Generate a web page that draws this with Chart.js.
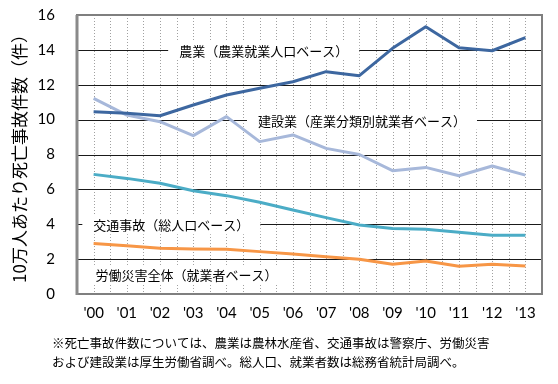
<!DOCTYPE html>
<html><head><meta charset="utf-8">
<script src="https://cdn.jsdelivr.net/npm/chart.js@4/dist/chart.umd.min.js"></script>
<style>html,body{margin:0;padding:0;background:#fff}</style>
</head><body>
<canvas id="c" width="558" height="384" style="width:558px;height:384px;display:block"></canvas>
<script>
const years = ["'00","'01","'02","'03","'04","'05","'06","'07","'08","'09","'10","'11","'12","'13"];
const agriculture = [10.45,10.36,10.22,10.84,11.41,11.80,12.17,12.75,12.52,14.09,15.33,14.12,13.95,14.70];
const construction = [11.22,10.26,9.88,9.08,10.17,8.74,9.12,8.35,8.00,7.07,7.26,6.78,7.34,6.82];
const traffic = [6.86,6.63,6.35,5.92,5.64,5.26,4.82,4.38,3.96,3.76,3.71,3.54,3.37,3.37];
const labor = [2.90,2.77,2.62,2.58,2.56,2.43,2.29,2.14,1.99,1.70,1.89,1.59,1.70,1.61];
const seriesNames = ["農業（農業就業人口ベース）","建設業（産業分類別就業者ベース）","交通事故（総人口ベース）","労働災害全体（就業者ベース）"];
const yTickValues = [0,2,4,6,8,10,12,14,16];
const yTitle = "10万人あたり死亡事故件数（件）";
const footnote = ["※死亡事故件数については、農業は農林水産省、交通事故は警察庁、労働災害","および建設業は厚生労働省調べ。総人口、就業者数は総務省統計局調べ。"];

// label anchors (category index, value) – placement of in-chart series labels
const labelAnchors = [[5.12,14],[8.08,10],[2.34,4],[2.8,1.15]];

const CJK = '"Noto Sans CJK JP", "Noto Sans", sans-serif';

const gridPlugin = {
  id:'extras',
  beforeDatasetsDraw(chart){
    const {ctx, chartArea:a, scales:{x,y}} = chart;
    ctx.save();
    ctx.strokeStyle = '#a0a0a0'; ctx.lineWidth = 1; ctx.setLineDash([1,2]);
    for (let k = -1; k < years.length*2; k++) {
      const px = Math.round(x.getPixelForValue(k/2)) + 0.5;
      if (px <= a.left+1 || px >= a.right-1) continue;
      ctx.beginPath(); ctx.moveTo(px, a.top); ctx.lineTo(px, a.bottom); ctx.stroke();
    }
    ctx.setLineDash([]);
    ctx.strokeStyle = '#1a1a1a'; ctx.lineWidth = 1;
    yTickValues.forEach(v => {
      if (v === 0 || v === 16) return;
      const py = Math.round(y.getPixelForValue(v)) + 0.5;
      ctx.beginPath(); ctx.moveTo(a.left, py); ctx.lineTo(a.right, py); ctx.stroke();
    });
    ctx.font = '13px ' + CJK; ctx.textAlign = 'center'; ctx.textBaseline = 'middle';
    seriesNames.forEach((t, i) => {
      const [ci, v] = labelAnchors[i];
      const cx = x.getPixelForValue(ci), cy = y.getPixelForValue(v);
      const w = ctx.measureText(t).width + 22;
      ctx.fillStyle = '#fff'; ctx.fillRect(cx - w/2, cy - 9, w, 19);
      ctx.fillStyle = '#000'; ctx.fillText(t, cx, cy + 1);
    });
    ctx.restore();
  },
  afterDraw(chart){
    const {ctx, chartArea:a} = chart;
    ctx.save();
    ctx.strokeStyle = '#7f7f7f'; ctx.lineWidth = 2;
    ctx.strokeRect(a.left, a.top, a.right - a.left, a.bottom - a.top);
    ctx.strokeStyle = '#8a8a8a'; ctx.lineWidth = 3;
    ctx.beginPath(); ctx.moveTo(a.left, a.top); ctx.lineTo(a.left, a.bottom + 1); ctx.stroke();
    ctx.fillStyle = '#000'; ctx.font = '12.5px ' + CJK; ctx.textAlign = 'left'; ctx.textBaseline = 'middle';
    footnote.forEach((t, i) => ctx.fillText(t, 52, 343 + i * 19));
    ctx.restore();
  }
};

const mk = (label, data, color) => ({label, data, borderColor: color, backgroundColor: color, borderWidth: 3, pointRadius: 0, tension: 0, fill: false, borderJoinStyle: 'round'});

new Chart(document.getElementById('c'), {
  type: 'line',
  data: {
    labels: years,
    datasets: [
      mk(seriesNames[0], agriculture, '#3d67a0'),
      mk(seriesNames[1], construction, '#a7b8da'),
      mk(seriesNames[2], traffic, '#4bacc6'),
      mk(seriesNames[3], labor, '#f79646')
    ]
  },
  options: {
    responsive: false, devicePixelRatio: 1, animation: false,
    layout: {padding: {left: 0, right: 16, top: 15, bottom: 0}},
    plugins: {legend: {display: false}, tooltip: {enabled: false}},
    scales: {
      x: {
        offset: true,
        grid: {display: false, drawTicks: false},
        border: {display: false},
        ticks: {color: '#000', font: {family: 'Lato', size: 15}, padding: 10, maxRotation: 0, autoSkip: false},
        afterFit(s){ s.height = 90; s.paddingLeft = 0; s.paddingRight = 0; }
      },
      y: {
        min: 0, max: 16,
        afterBuildTicks(s){ s.ticks = yTickValues.map(v => ({value: v})); },
        grid: {display: false, drawTicks: false},
        border: {display: false},
        ticks: {color: '#000', font: {family: 'Lato', size: 15}, padding: 22},
        title: {display: true, text: yTitle, color: '#000', font: {family: CJK, size: 17}, padding: {top: 9, bottom: 0}},
        afterFit(s){ s.width = 77; s.paddingTop = 0; s.paddingBottom = 0; }
      }
    }
  },
  plugins: [gridPlugin]
});
</script>
</body></html>
